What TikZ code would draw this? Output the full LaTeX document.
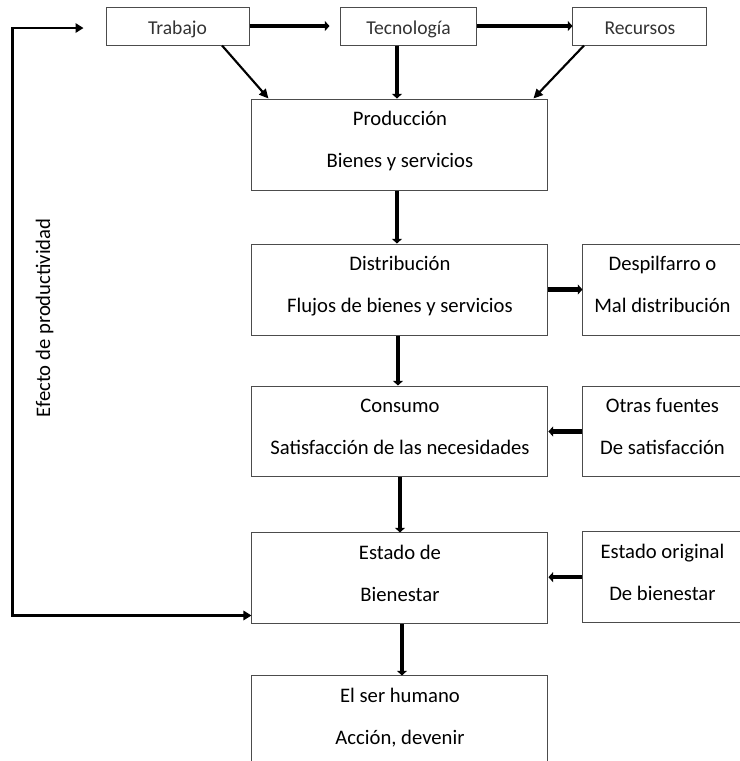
\documentclass[tikz,border=0pt]{standalone}
\usepackage{fontspec}
\setmainfont{Carlito}
\usetikzlibrary{positioning, arrows.meta, calc}
\tikzset{
    mainbox/.style={
        draw=black!70, line width=0.75pt,
        minimum width=222pt, minimum height=68.25pt,
        font=\fontsize{15.5}{19}\selectfont, align=center,
        inner sep=2pt, text depth=7.5pt
    },
    sidebox/.style={mainbox, minimum width=119.25pt},
    topbox/.style={
        draw=black!70, line width=0.75pt,
        minimum height=28.5pt, text=black!80,
        font=\fontsize{14.7}{17}\selectfont, inner sep=2pt,
        text height=12.5pt, text depth=0pt
    },
    flow/.style={
        -{Triangle[length=3.5pt, width=7.5pt]},
        line width=3.3pt, draw=black
    },
    feed/.style={
        -{Triangle[length=7pt, width=6.5pt]},
        line width=1.6pt, draw=black
    },
    backflow/.style={
        {Triangle[length=6pt, width=7pt]}-{Triangle[length=6pt, width=7pt]},
        line width=2.2pt, draw=black
    },
    sidenote/.style={font=\fontsize{15.5}{19}\selectfont, inner sep=0pt},
}
\begin{document}
\begin{tikzpicture}
\useasboundingbox (-300pt,-462.4pt) rectangle (255pt,108.4pt);

% ---- Main column ----
\node[mainbox] (prod) at (0,0) {Producción\\[12.5pt]Bienes y servicios};
\node[mainbox, below=39.75pt of prod] (dist) {Distribución\\[12.5pt]Flujos de bienes y servicios};
\node[mainbox, below=37.5pt of dist] (cons) {Consumo\\[12.5pt]Satisfacción de las necesidades};
\node[mainbox, below=41.25pt of cons] (estado) {Estado de\\[12.5pt]Bienestar};
\node[mainbox, below=38.25pt of estado] (humano) {El ser humano\\[12.5pt]Acción, devenir};

% ---- Top row ----
\node[topbox, minimum width=102.75pt, above=39.75pt of prod, xshift=6.4pt] (tecno) {Tecnología};
\node[topbox, minimum width=107.25pt, left=67.5pt of tecno] (trabajo) {Trabajo};
\node[topbox, minimum width=100.5pt, right=71.25pt of tecno] (recursos) {Recursos};

% ---- Side boxes ----
\node[sidebox, right=25.5pt of dist] (despil) {Despilfarro o\\[12.5pt]Mal distribución};
\node[sidebox, right=25.5pt of cons] (otras) {Otras fuentes\\[12.5pt]De satisfacción};
\node[sidebox, right=25.5pt of estado, yshift=1pt] (original) {Estado original\\[12.5pt]De bienestar};

% ---- Connectors ----
\draw[flow, shorten >=7.5pt] (trabajo) -- (tecno);
\draw[flow] (tecno) -- (recursos);
\draw[feed] ([xshift=33.4pt]trabajo.south) -- ([xshift=12.75pt]prod.north west);
\draw[flow] ([xshift=-2.25pt]prod.north |- tecno.south) -- ([xshift=-2.25pt]prod.north);
\draw[feed] ([xshift=-42pt]recursos.south) -- ([xshift=-11.25pt]prod.north east);
\draw[flow] ([xshift=-2.25pt]prod.south) -- ([xshift=-2.25pt]dist.north);
\draw[flow] ([xshift=-1.5pt]dist.south) -- ([xshift=-1.5pt]cons.north);
\draw[flow] (cons) -- (estado);
\draw[flow] ([xshift=1.5pt]estado.south) -- ([xshift=1.5pt]humano.north);
\draw[flow] (dist) -- (despil);
\draw[flow] (otras) -- (cons);
\draw[flow] (original) -- (original -| estado.east);

% ---- Feedback loop ----
\coordinate (back-in) at ([xshift=-16.5pt, yshift=-1.5pt]trabajo.west);
\coordinate (back-corner) at ([xshift=-179.25pt, yshift=6.75pt]estado.south west);
\draw[backflow] ([yshift=6.75pt]estado.south west) -- (back-corner) |- (back-in);
\node[sidenote, rotate=90] (efecto)
    at ($(back-corner)!0.5!(back-corner |- back-in) + (24pt,3pt)$) {Efecto de productividad};

\end{tikzpicture}
\end{document}
